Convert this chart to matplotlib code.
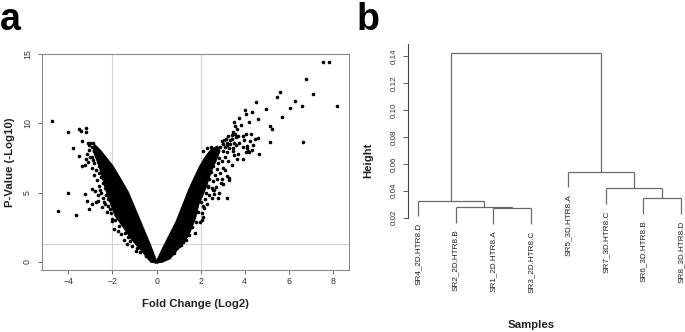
import numpy as np
import matplotlib
matplotlib.use("Agg")
import matplotlib.pyplot as plt

plt.rcParams['font.family'] = ['Liberation Sans', 'DejaVu Sans']

# ---- panel a: volcano plot ----
# solid dense core of the V, outline
left_core_x = [0.0, -0.30, -0.80, -1.30, -1.70, -2.00, -2.30, -2.55, -2.80,
               -2.85, -2.70, -2.55, -2.42, -2.30, -2.18, -2.02, -1.85, -1.55,
               -1.15, -0.62, -0.25]
left_core_y = [-0.05, 1.20, 3.10, 5.00, 6.10, 6.90, 7.50, 8.00, 8.40,
               8.00, 7.40, 6.70, 6.00, 5.30, 4.70, 4.00, 3.30, 2.65,
               1.70, 0.72, 0.0]
right_core_x = [0.0, 0.30, 0.91, 1.51, 1.97, 2.25, 2.50, 2.75, 2.85,
                2.70, 2.50, 2.35, 2.20, 2.05, 1.90, 1.74, 1.44, 0.98, 0.60, 0.25]
right_core_y = [-0.05, 0.97, 2.89, 5.30, 6.86, 7.60, 8.10, 8.30, 8.00,
                7.40, 6.70, 6.00, 5.30, 4.70, 4.20, 3.14, 1.93, 0.97, 0.25, 0.0]

# scattered genes outside the core
left_pts_x = [-4.74, -4.01, -3.51, -3.45, -3.22, -3.21, -3.80, -3.36, -3.51, -3.37,
              -3.25, -3.20, -4.01, -4.47, -3.66, -3.25, -2.94, -2.79, -3.15, -3.06,
              -2.91, -2.77, -2.65, -2.48, -2.04, -2.03, -1.94, -3.10, -3.00, -2.90,
              -2.95, -3.05, -2.85, -2.75, -2.70, -3.15, -3.00, -2.90, -3.10, -2.85,
              -2.60, -2.95, -2.75, -2.60, -2.85, -2.50, -2.70, -2.45, -2.60, -2.35,
              -2.50, -2.30, -2.45, -2.20, -2.35, -2.20, -2.10, -2.25, -2.05, -2.30,
              -2.40, -2.55, -2.25, -2.15, -2.20, -2.10, -1.75, -1.60, -1.50, -1.35,
              -1.10, -0.95, -2.65, -2.55, -1.90, -1.70, -1.45, -1.30, -1.20, -0.90,
              -0.75, -0.50, -2.55, -2.65, -2.40, -2.95, -3.05]
left_pts_y = [10.17, 9.37, 9.56, 9.47, 9.64, 9.37, 8.24, 8.72, 7.66, 6.91,
              7.00, 7.45, 4.96, 3.66, 3.37, 4.91, 5.25, 5.11, 4.39, 3.78,
              4.15, 4.29, 4.39, 3.97, 3.08, 2.95, 2.36, 8.60, 8.55, 8.60,
              8.30, 8.10, 8.00, 8.20, 7.90, 7.80, 7.60, 7.35, 7.20, 7.10,
              6.90, 6.80, 6.60, 6.40, 6.30, 6.10, 5.90, 5.70, 5.50, 5.30,
              5.00, 4.80, 4.60, 4.50, 4.20, 4.00, 3.80, 3.60, 3.50, 6.50,
              7.10, 7.40, 6.00, 5.60, 5.10, 4.70, 2.20, 2.00, 1.60, 1.30,
              1.10, 0.80, 8.05, 7.75, 3.00, 2.60, 2.10, 1.80, 1.50, 1.00,
              0.70, 0.40, 5.20, 4.80, 4.30, 7.55, 8.40]
right_pts_x = [7.56, 7.84, 6.76, 7.08, 8.17, 6.29, 6.58, 6.05, 6.63, 5.58,
               5.47, 4.95, 5.69, 5.14, 5.23, 5.16, 4.51, 4.34, 3.99, 4.04,
               4.20, 4.61, 4.61, 4.63, 4.39, 4.10, 4.15, 4.20, 4.05, 4.12,
               3.51, 3.72, 3.55, 3.66, 3.83, 3.40, 3.55, 3.90, 4.05, 4.30,
               3.95, 4.25, 3.66, 3.90, 3.00, 3.20, 3.35, 3.10, 3.30, 3.45,
               3.20, 3.00, 3.50, 3.60, 2.90, 3.35, 3.15, 2.50, 2.80, 3.20,
               3.28, 3.30, 2.93, 2.10, 2.30, 2.45, 2.60, 2.75, 2.50, 2.70,
               2.85, 2.60, 2.80, 2.95, 2.55, 2.75, 2.45, 2.65, 2.40, 2.55,
               2.35, 2.50, 2.25, 2.40, 2.20, 2.30, 2.15, 2.05, 1.97, 1.74,
               1.47, 2.10, 2.20, 2.30, 2.15, 2.95, 3.00, 2.75, 2.60, 1.20,
               1.00, 3.45, 3.70, 1.90, 1.80, 1.60, 1.35, 1.10, 0.80, 2.00,
               2.10, 2.05, 3.10, 3.25, 3.40, 3.10, 2.90, 3.20, 3.00, 2.70,
               2.85, 2.60, 3.40, 3.25, 3.60, 3.75, 3.90, 3.50, 3.70, 2.95,
               3.05, 3.20, 2.35, 2.55, 4.35, 4.45, 3.45]
right_pts_y = [14.41, 14.43, 13.18, 12.14, 11.23, 11.63, 11.27, 11.08, 8.67, 12.24,
               11.92, 11.03, 10.48, 9.80, 9.56, 8.67, 11.52, 10.82, 10.96, 10.65,
               10.12, 10.31, 8.94, 7.76, 8.43, 8.20, 8.00, 7.95, 7.90, 8.35,
               10.09, 10.38, 9.80, 9.56, 9.88, 9.15, 9.20, 9.05, 9.20, 9.20,
               8.80, 8.70, 7.40, 7.42, 8.50, 8.60, 8.50, 8.30, 8.20, 8.00,
               7.90, 8.00, 8.60, 8.40, 8.30, 8.80, 8.85, 4.60, 4.60, 4.60,
               5.90, 6.05, 5.66, 8.00, 8.20, 8.30, 8.10, 8.20, 7.85, 7.70,
               7.50, 7.30, 7.10, 7.30, 6.90, 6.70, 6.50, 6.30, 6.00, 5.80,
               5.50, 5.30, 5.00, 4.80, 4.50, 4.20, 3.90, 3.50, 2.85, 2.05,
               1.93, 3.20, 5.60, 6.70, 7.20, 6.00, 6.80, 6.00, 5.20, 1.40,
               1.10, 9.40, 9.10, 3.60, 2.90, 2.50, 1.60, 1.20, 0.60, 4.30,
               4.00, 3.00, 7.60, 7.30, 7.00, 6.60, 6.40, 6.20, 5.60, 5.40,
               5.00, 4.90, 8.90, 9.10, 9.00, 8.60, 8.30, 7.70, 7.80, 8.70,
               8.80, 8.40, 5.40, 5.20, 8.10, 8.90, 8.25]

fc_cut = [-2, 2]
p_cut = 1.3

# ---- panel b: dendrogram ----
samples = ['SR4_2D.HTR8.D', 'SR2_2D.HTR8.B', 'SR1_2D.HTR8.A', 'SR3_2D.HTR8.C',
           'SR5_3D.HTR8.A', 'SR7_3D.HTR8.C', 'SR6_3D.HTR8.B', 'SR8_3D.HTR8.D']
# merges: (left member, right member, height); leaves are 0..7 in plot order,
# clusters are 'c0', 'c1', ... in order of creation
merges = [(2, 3, 0.0270),
          (1, 'c0', 0.0277),
          (0, 'c1', 0.0326),
          (6, 7, 0.0344),
          (5, 'c3', 0.0418),
          (4, 'c4', 0.0541),
          ('c2', 'c5', 0.1424)]
hang = 0.0115

fig = plt.figure(figsize=(6.85, 3.32), dpi=100)
W, H = 685, 332

# volcano axes
ax = fig.add_axes([41.5 / W, 1 - 270 / H, 307.5 / W, 216 / H])
ax.axvline(fc_cut[0], color='#d4d4d4', lw=0.8, zorder=0)
ax.axvline(fc_cut[1], color='#d4d4d4', lw=0.8, zorder=0)
ax.axhline(p_cut, color='#d4d4d4', lw=0.8, zorder=0)
ax.fill(left_core_x, left_core_y, color='black', lw=1.6, ec='black', zorder=2)
ax.fill(right_core_x, right_core_y, color='black', lw=1.6, ec='black', zorder=2)
ax.plot(left_pts_x, left_pts_y, 'o', color='black', ms=2.6, mew=0, zorder=3)
ax.plot(right_pts_x, right_pts_y, 'o', color='black', ms=2.6, mew=0, zorder=3)
ax.set_xlim(-5.22, 8.73)
ax.set_ylim(-0.6, 15.01)
ax.set_xticks([-4, -2, 0, 2, 4, 6, 8])
ax.set_yticks([0, 5, 10, 15])
for s in ax.spines.values():
    s.set_color('#8c8c8c')
    s.set_linewidth(0.8)
ax.tick_params(length=2.6, width=0.6, color='#555555', labelsize=6.3,
               labelcolor='#333333')
ax.tick_params(axis='x', pad=2.5)
ax.tick_params(axis='y', pad=4.2)
plt.setp(ax.get_yticklabels(), rotation=90, va='center')
fig.text(196 / W, 1 - 304 / H, 'Fold Change (Log2)', ha='center', va='center',
         fontsize=8.2, fontweight='bold', color='#222222')
fig.text(10 / W, 1 - 162 / H, 'P-Value (-Log10)', ha='center', va='center',
         rotation=90, fontsize=8.2, fontweight='bold', color='#222222')

# dendrogram axes (extends past the right edge, as in the picture)
ad = fig.add_axes([407.8 / W, 1 - 244.65 / H, 283.7 / W, 215.6 / H])
ad.set_xlim(0.72, 8.28)
ad.set_ylim(0.0, 0.16)
pos = {}
top = {}
for i in range(len(samples)):
    pos[i] = i + 1
    top[i] = None
dcol = '#6a6a6a'
for k, (a, b, h) in enumerate(merges):
    for m in (a, b):
        if isinstance(m, int):
            y0 = h - hang
            ad.annotate(samples[m], (pos[m], y0), xytext=(0, -4.8),
                        textcoords='offset points', rotation=90, ha='center',
                        va='top', fontsize=5.9, color='#222222')
        else:
            y0 = top[m]
        ad.plot([pos[m], pos[m]], [y0, h], color=dcol, lw=0.9,
                solid_capstyle='butt')
    ad.plot([pos[a], pos[b]], [h, h], color=dcol, lw=0.9, solid_capstyle='butt')
    name = 'c%d' % k
    pos[name] = (pos[a] + pos[b]) / 2
    top[name] = h
for s in ['top', 'right', 'bottom']:
    ad.spines[s].set_visible(False)
ad.spines['left'].set_bounds(0.02, 0.149)
ad.spines['left'].set_color('#444444')
ad.spines['left'].set_linewidth(0.8)
ad.set_xticks([])
ad.set_yticks([0.02, 0.04, 0.06, 0.08, 0.10, 0.12, 0.14])
ad.set_yticklabels(['0.02', '0.04', '0.06', '0.08', '0.10', '0.12', '0.14'])
ad.tick_params(axis='y', length=3.5, width=0.6, color='#444444', labelsize=5.8,
               labelcolor='#333333', pad=3.5)
plt.setp(ad.get_yticklabels(), rotation=90, va='center')
fig.text(368 / W, 1 - 160 / H, 'Height', ha='center', va='center', rotation=90,
         fontsize=8.2, fontweight='bold', color='#222222')
fig.text(531 / W, 1 - 325 / H, 'Samples', ha='center', va='center',
         fontsize=8.2, fontweight='bold', color='#222222')

fig.text(0 / W, 1 - 30 / H, 'a', ha='left', va='baseline', fontsize=27,
         fontweight='bold')
fig.text(357 / W, 1 - 30 / H, 'b', ha='left', va='baseline', fontsize=27,
         fontweight='bold')

fig.savefig('out.png', dpi=100, facecolor='white')
